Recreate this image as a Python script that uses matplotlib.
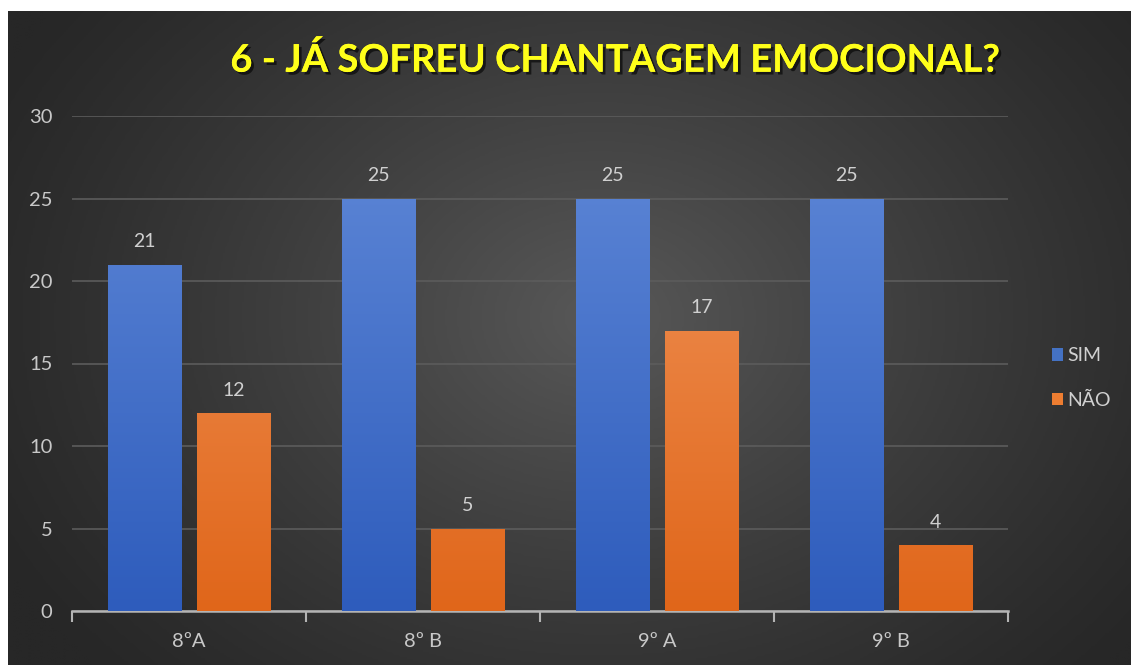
import matplotlib

matplotlib.use("Agg")

import matplotlib.pyplot as plt
import matplotlib.patheffects as pe
import numpy as np
from matplotlib.colors import LinearSegmentedColormap
from matplotlib.patches import Patch

categories = ["8ºA", "8º B", "9º A", "9º B"]
sim_values = [21, 25, 25, 25]
nao_values = [12, 5, 17, 4]
series_names = ["SIM", "NÃO"]
y_ticks = [0, 5, 10, 15, 20, 25, 30]

FONT = ["Lato", "DejaVu Sans"]
W, H = 1131, 665

fig = plt.figure(figsize=(W / 100, H / 100), dpi=100, facecolor="white")

# dark radial background, white strip at top and left like the screenshot
bg = fig.add_axes([8 / W, 0, 1 - 8 / W, 1 - 11 / H], zorder=-10)
yy, xx = np.mgrid[0:300, 0:560]
dist = np.sqrt(((xx - 295) / 340.0) ** 2 + ((yy - 140) / 240.0) ** 2)
shade = np.clip(1 - dist, 0, 1) ** 1.2
bg_cmap = LinearSegmentedColormap.from_list("bg", ["#272727", "#585858"])
bg.imshow(shade, cmap=bg_cmap, aspect="auto", interpolation="bilinear", vmin=0, vmax=1)
bg.set_axis_off()

ax = fig.add_axes([72 / W, (H - 611) / H, (1008 - 72) / W, (611 - 116) / H])
ax.patch.set_alpha(0)

x = np.arange(len(categories))
width = 0.312
offset = 0.19
blue_cmap = LinearSegmentedColormap.from_list("b", ["#2e5cbc", "#6089d8"])
orange_cmap = LinearSegmentedColormap.from_list("o", ["#e0661a", "#f2985f"])
grad = np.linspace(0, 1, 256).reshape(-1, 1)

for values, shift, cmap in [(sim_values, -offset, blue_cmap), (nao_values, offset, orange_cmap)]:
    bars = ax.bar(x + shift, values, width, color="none", edgecolor="none", zorder=3)
    for bar, val in zip(bars, values):
        x0 = bar.get_x()
        img = ax.imshow(grad, cmap=cmap, origin="lower", aspect="auto",
                        extent=(x0, x0 + width, 0, 30), zorder=3)
        img.set_clip_path(bar)
        ax.text(x0 + width / 2, val + 0.85, str(val), ha="center", va="bottom",
                fontsize=14, color="#d0d0d0", family=FONT)

ax.set_xlim(-0.5, len(categories) - 0.5)
ax.set_ylim(0, 30)
ax.set_yticks(y_ticks)
ax.set_xticks(x)
ax.set_xticklabels(categories)
ax.set_xticks(np.arange(-0.5, len(categories)), minor=True)
ax.yaxis.grid(True, color="#5c5c5c", linewidth=1.2, zorder=0)
ax.set_axisbelow(True)
for side in ["top", "right", "left"]:
    ax.spines[side].set_visible(False)
ax.spines["bottom"].set_color("#b4b4b4")
ax.spines["bottom"].set_linewidth(1.8)
ax.tick_params(axis="y", length=0, pad=14, labelsize=14.5, labelcolor="#c8c8c8")
ax.tick_params(axis="x", which="major", length=0, pad=16, labelsize=14.5, labelcolor="#c8c8c8")
ax.tick_params(axis="x", which="minor", length=8, width=1.5, color="#b4b4b4")
for lbl in ax.get_xticklabels() + ax.get_yticklabels():
    lbl.set_family(FONT)

fig.text(616 / W, 1 - 60 / H, "6 - JÁ SOFREU CHANTAGEM EMOCIONAL?", ha="center", va="center",
         fontsize=27.5, fontweight="bold", color="#ffff1a", family=FONT,
         path_effects=[pe.withSimplePatchShadow(offset=(2, -2), shadow_rgbFace="black", alpha=0.6),
                       pe.Normal()])

handles = [Patch(facecolor="#4472c4"), Patch(facecolor="#ed7d31")]
fig.legend(handles, series_names, loc="center left", bbox_to_anchor=(1034 / W, 1 - 378 / H),
           frameon=False, labelcolor="#d0d0d0", prop={"family": FONT, "size": 14},
           handlelength=0.6, handleheight=0.6, handletextpad=0.2, labelspacing=1.4)

fig.savefig("out.png", dpi=100, facecolor="white")
